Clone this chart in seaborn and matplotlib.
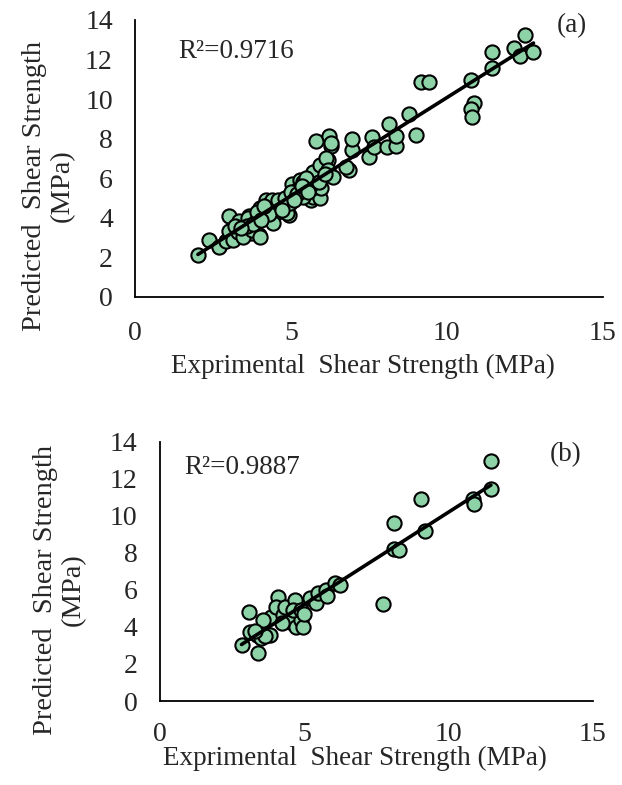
import numpy as np
import pandas as pd
import matplotlib
matplotlib.use("Agg")
import matplotlib.pyplot as plt
import seaborn as sns

# panel (a) values
exp_a = [2.02, 2.36, 2.69, 2.93, 3.03, 3.03, 3.35, 3.51, 3.67, 3.99, 3.73, 4.21, 4.31, 4.53,
         4.74, 4.95, 4.95, 5.06, 5.27, 5.38, 5.70, 5.65, 5.91, 5.96, 6.18, 5.80, 6.23, 6.28,
         6.87, 6.97, 6.97, 7.51, 7.61, 7.67, 8.09, 8.15, 8.36, 8.36, 8.79, 9.02, 9.16, 9.42,
         10.76, 10.86, 10.76, 10.81, 11.45, 11.45, 12.14, 12.35, 12.51, 12.78,
         3.15, 3.30, 3.47, 3.63, 3.74, 3.90, 4.00, 4.33, 4.49, 4.65, 4.22, 4.43, 4.86, 4.97,
         5.05, 5.29, 5.50, 5.71, 5.93, 5.66, 5.82, 5.98, 5.71, 5.93, 6.14, 6.20, 6.36, 6.30,
         6.78, 5.39, 5.18,
         4.00, 4.10, 4.40, 4.60, 4.80, 5.00, 5.20, 5.40, 5.60, 5.50, 3.20, 3.60, 3.90, 4.30,
         5.10, 5.90, 6.10, 3.80, 4.15, 4.70, 5.35, 5.55, 4.05, 3.40]
pred_a = [2.10, 2.87, 2.53, 2.82, 3.32, 4.07, 3.82, 3.40, 4.07, 3.15, 3.23, 4.90, 4.57, 4.23,
          4.57, 4.15, 5.07, 5.65, 5.82, 5.57, 6.23, 4.90, 5.07, 6.57, 6.90, 7.90, 8.15, 7.65,
          6.40, 7.40, 7.98, 7.07, 8.07, 7.57, 7.57, 8.73, 7.65, 8.15, 9.23, 8.20, 10.87, 10.87,
          10.98, 9.82, 9.48, 9.07, 11.57, 12.37, 12.57, 12.15, 13.23, 12.37,
          2.88, 3.30, 3.05, 3.97, 3.38, 3.89, 3.05, 4.73, 4.39, 4.56, 3.97, 3.72, 4.23, 4.73,
          5.70, 5.91, 5.40, 5.07, 4.98, 5.91, 5.57, 5.49, 6.33, 6.67, 7.00, 6.41, 6.08, 7.76,
          6.58, 5.07, 5.40,
          4.50, 4.20, 4.90, 4.90, 5.00, 5.30, 5.20, 5.80, 5.60, 6.00, 3.60, 3.60, 4.30, 4.20,
          4.90, 5.80, 6.20, 3.70, 4.60, 4.40, 5.60, 5.30, 3.90, 3.50]

# panel (b) values
exp_b = [2.83, 3.40, 3.09, 3.11, 3.35, 3.52, 3.81, 3.86, 4.09, 4.04, 4.27, 4.33, 4.50, 4.67,
         4.73, 4.90, 4.96, 5.19, 5.42, 5.48, 5.77, 6.06, 6.23, 4.61, 4.90, 3.57, 5.00, 5.80,
         7.72, 8.13, 8.13, 8.30, 9.04, 9.18, 10.86, 10.87, 11.47, 11.47, 3.66, 4.24, 3.31]
pred_b = [3.03, 2.61, 4.83, 3.75, 3.57, 3.39, 3.57, 4.56, 5.64, 5.10, 4.65, 5.10, 4.29, 5.46,
          4.02, 4.38, 4.02, 5.55, 5.28, 5.82, 6.00, 6.36, 6.27, 4.92, 4.92, 4.38, 4.70, 5.70,
          5.26, 9.64, 8.20, 8.14, 10.90, 9.19, 10.90, 10.67, 11.44, 12.97, 3.51, 4.23, 3.78]

r2_labels = ["R\u00b2=0.9716", "R\u00b2=0.9887"]
panel_labels = ["(a)", "(b)"]
x_ticks = [0, 5, 10, 15]
y_ticks = [0, 2, 4, 6, 8, 10, 12, 14]

sns.set_style("white")
plt.rcParams['font.family'] = ['Liberation Serif', 'DejaVu Serif']

fig = plt.figure(figsize=(6.22, 7.85), dpi=100)
ax_a = fig.add_axes([0.217, 0.6217, 0.752, 0.353])
ax_b = fig.add_axes([0.257, 0.107, 0.696, 0.330])

panels = [
    (ax_a, exp_a, pred_a, (1.4, 12.4), (14.0, 13.7), (-0.128, 0.40), (0.487, -0.205), 17),
    (ax_b, exp_b, pred_b, (0.85, 12.6), (14.05, 13.3), (-0.170, 0.43), (0.45, -0.172), 15),
]

for i, (ax, xs, ys, r2_pos, lab_pos, ylab_xy, xlab_xy, xpad) in enumerate(panels):
    df = pd.DataFrame({"exp": xs, "pred": ys})
    sns.regplot(data=df, x="exp", y="pred", ax=ax, ci=None,
                scatter_kws=dict(s=105, color="#8ed3a8", edgecolor="black",
                                 linewidths=1.5, alpha=1, zorder=2),
                line_kws=dict(color="black", lw=2.6, zorder=3))
    ax.set_xlim(0, 15)
    ax.set_ylim(0, 14)
    ax.set_xticks(x_ticks)
    ax.set_yticks(y_ticks)
    ax.tick_params(axis="both", length=0, labelsize=20)
    ax.tick_params(axis="y", pad=16)
    ax.tick_params(axis="x", pad=xpad)
    sns.despine(ax=ax)
    for sp in ["left", "bottom"]:
        ax.spines[sp].set_color("black")
        ax.spines[sp].set_linewidth(1.3)
    ax.set_xlabel("Exprimental  Shear Strength (MPa)", fontsize=19.5)
    ax.set_ylabel("Predicted  Shear Strength\n(MPa)", fontsize=20.5, linespacing=1.15)
    ax.yaxis.set_label_coords(*ylab_xy)
    ax.xaxis.set_label_coords(*xlab_xy)
    ax.text(r2_pos[0], r2_pos[1], r2_labels[i], fontsize=19.5, ha="left", va="center")
    ax.text(lab_pos[0], lab_pos[1], panel_labels[i], fontsize=19.5, ha="center", va="center")

fig.savefig("out.png", dpi=100)
